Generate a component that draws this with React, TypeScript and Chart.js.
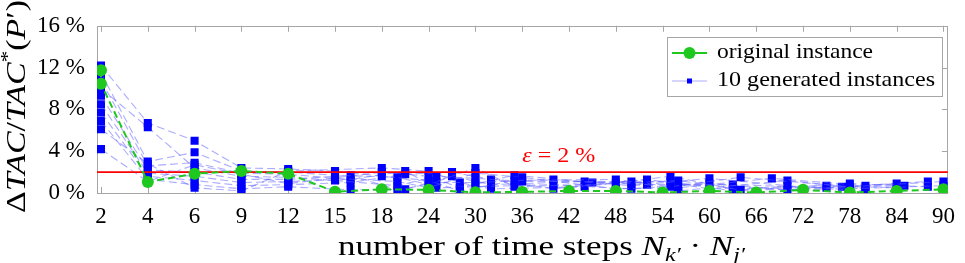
import React, { useEffect, useRef } from 'react';
import { Chart, registerables } from 'chart.js';

Chart.register(...registerables);

// ---- data ----
const tickSteps = [2, 4, 6, 9, 12, 15, 18, 24, 30, 36, 42, 48, 54, 60, 66, 72, 78, 84, 90];
const yTicks = [0, 4, 8, 12, 16];
const epsilon = 2;

const originalSteps = [2, 2, 4, 6, 9, 12, 15, 18, 24, 30, 36, 42, 48, 54, 60, 66, 72, 78, 84, 90];
const originalGap = [11.75, 10.45, 1.05, 1.85, 2.1, 1.85, 0.12, 0.35, 0.3, 0.06, 0.1, 0.2, 0.2, 0.05, 0.2, 0.05, 0.3, 0.05, 0.2, 0.35];

const gen0Steps = [2, 4, 6, 9, 12, 15, 18, 24, 28, 35, 48, 55, 64, 78, 90];
const gen0Gap = [12.2, 6.7, 5.0, 2.4, 2.3, 2.1, 1.6, 1.2, 0.2, 1.2, 1.3, 0.6, 1.5, 0.6, 1.1];
const gen1Steps = [2, 4, 6, 9, 12, 15, 20, 24, 30, 35, 48, 56, 64, 78, 90];
const gen1Gap = [11.5, 3.0, 3.9, 2.1, 2.0, 1.7, 1.5, 0.8, 2.4, 0.6, 0.9, 1.2, 0.3, 0.4, 0.7];
const gen2Steps = [2, 4, 6, 9, 12, 15, 20, 24, 30, 36, 48, 56, 68, 80];
const gen2Gap = [10.8, 2.6, 2.9, 1.9, 1.8, 1.4, 1.1, 0.5, 1.9, 1.5, 0.4, 0.5, 1.4, 0.7];
const gen3Steps = [2, 4, 6, 9, 12, 15, 20, 25, 30, 36, 50, 56, 70, 80];
const gen3Gap = [10.0, 6.3, 2.4, 1.6, 1.5, 1.2, 0.7, 1.6, 1.4, 1.1, 1.1, 0.2, 1.2, 0.4];
const gen4Steps = [2, 4, 6, 9, 12, 16, 20, 25, 30, 40, 50, 60, 70, 80];
const gen4Gap = [9.3, 2.2, 2.0, 1.3, 1.3, 1.7, 0.3, 1.0, 1.0, 1.3, 0.7, 1.4, 0.7, 0.2];
const gen5Steps = [2, 4, 6, 9, 12, 16, 21, 25, 30, 40, 50, 60, 70, 84];
const gen5Gap = [8.5, 1.9, 1.6, 1.0, 1.1, 1.3, 2.1, 0.5, 0.6, 0.8, 0.4, 0.9, 0.3, 0.9];
const gen6Steps = [2, 4, 6, 9, 12, 16, 21, 27, 32, 40, 52, 60, 75, 84];
const gen6Gap = [7.7, 1.6, 1.2, 0.7, 0.8, 1.0, 1.8, 2.0, 1.3, 0.4, 1.3, 0.4, 0.7, 0.5];
const gen7Steps = [2, 4, 6, 9, 12, 16, 21, 27, 32, 44, 52, 63, 75, 85];
const gen7Gap = [6.9, 1.3, 0.8, 0.4, 0.6, 0.3, 0.35, 1.6, 0.8, 1.1, 0.8, 0.8, 0.5, 0.7];
const gen8Steps = [2, 4, 6, 9, 12, 18, 24, 28, 32, 44, 55, 63, 77, 88];
const gen8Gap = [6.1, 2.8, 0.5, 0.2, 2.1, 2.4, 2.1, 1.0, 0.4, 0.6, 1.6, 0.4, 0.6, 1.1];
const gen9Steps = [2, 4, 6, 9, 12, 18, 24, 28, 35, 45, 55, 63, 78, 88];
const gen9Gap = [4.2, 1.1, 2.7, 1.8, 0.9, 2.0, 1.6, 0.5, 1.7, 1.0, 1.1, 0.2, 0.9, 0.6];

const generatedSteps = [gen0Steps, gen1Steps, gen2Steps, gen3Steps, gen4Steps, gen5Steps, gen6Steps, gen7Steps, gen8Steps, gen9Steps];
const generatedGap = [gen0Gap, gen1Gap, gen2Gap, gen3Gap, gen4Gap, gen5Gap, gen6Gap, gen7Gap, gen8Gap, gen9Gap];

// ---- styles ----
const GREEN = '#1ec81e';
const BLUE = '#0000ff';
const BLUE_LINE = 'rgba(90,90,255,0.5)';
const RED = '#ff0000';
const AXIS = '#a6a6a6';
const SERIF = '"Liberation Serif", "Times New Roman", serif';
const X_MIN = -0.085;
const X_MAX = 18.095;

// piecewise-linear position of a step count on the tick axis
function stepPos(n: number): number {
  for (let i = 0; i < tickSteps.length - 1; i++) {
    const a = tickSteps[i];
    const b = tickSteps[i + 1];
    if (n <= b) return i + (n - a) / (b - a);
  }
  return tickSteps.length - 1;
}

type Piece = { t: string; font: string; dy?: number };

function runWidth(ctx: CanvasRenderingContext2D, pieces: Piece[]) {
  let w = 0;
  for (const p of pieces) {
    ctx.font = p.font;
    w += ctx.measureText(p.t).width;
  }
  return w;
}

function drawRun(ctx: CanvasRenderingContext2D, pieces: Piece[], x: number, y: number, target?: number) {
  const w = runWidth(ctx, pieces);
  const s = target ? target / w : 1;
  ctx.save();
  ctx.translate(x, y);
  ctx.scale(s, 1);
  ctx.textAlign = 'left';
  ctx.textBaseline = 'alphabetic';
  let cx = 0;
  for (const p of pieces) {
    ctx.font = p.font;
    ctx.fillText(p.t, cx, p.dy || 0);
    cx += ctx.measureText(p.t).width;
  }
  ctx.restore();
}

const decorPlugin = {
  id: 'decor',
  beforeDatasetsDraw(chart: any) {
    const { ctx, chartArea: a, scales } = chart;
    ctx.save();
    ctx.strokeStyle = AXIS;
    ctx.lineWidth = 1;
    ctx.beginPath();
    ctx.rect(Math.round(a.left) + 0.5, Math.round(a.top) + 0.5, Math.round(a.right - a.left) - 1, Math.round(a.bottom - a.top));
    ctx.stroke();
    ctx.beginPath();
    const xs = scales.x;
    tickSteps.forEach((_, i) => {
      const px = Math.round(xs.getPixelForValue(i)) + 0.5;
      ctx.moveTo(px, a.bottom);
      ctx.lineTo(px, a.bottom - 6);
      ctx.moveTo(px, a.top);
      ctx.lineTo(px, a.top + 6);
    });
    const ys = scales.y;
    yTicks.forEach((v) => {
      const py = Math.round(ys.getPixelForValue(v)) + 0.5;
      ctx.moveTo(a.left, py);
      ctx.lineTo(a.left + 6, py);
      ctx.moveTo(a.right, py);
      ctx.lineTo(a.right - 6, py);
    });
    ctx.stroke();
    ctx.restore();
  },
  afterDraw(chart: any) {
    const { ctx, scales } = chart;
    ctx.save();
    ctx.fillStyle = '#000';

    // x-axis title
    const up = `28px ${SERIF}`;
    const it = `italic 28px ${SERIF}`;
    const sub = `italic 19px ${SERIF}`;
    drawRun(ctx, [
      { t: 'number of time steps ', font: up },
      { t: 'N', font: it },
      { t: 'k\u2032', font: sub, dy: 6 },
      { t: ' \u00b7 ', font: up },
      { t: 'N', font: it },
      { t: 'j\u2032', font: sub, dy: 6 },
    ], 338, 255, 407);

    // y-axis title (rotated)
    ctx.save();
    ctx.translate(25, 213);
    ctx.rotate(-Math.PI / 2);
    drawRun(ctx, [
      { t: '\u0394', font: up },
      { t: 'TAC', font: it },
      { t: '/', font: up },
      { t: 'TAC', font: it },
      { t: '*', font: `19px ${SERIF}`, dy: -11 },
      { t: '(', font: up },
      { t: 'P', font: it },
      { t: '\u2032', font: up },
      { t: ')', font: up },
    ], 0, 0, 213);
    ctx.restore();

    // epsilon label
    ctx.fillStyle = RED;
    const ex = scales.x.getPixelForValue(stepPos(36));
    const ey = scales.y.getPixelForValue(epsilon) - 10;
    drawRun(ctx, [
      { t: '\u03b5', font: `italic 22px ${SERIF}` },
      { t: ' = 2 %', font: `22px ${SERIF}` },
    ], ex, ey, 73);

    // legend
    const lx = 667.5, ly = 37.5, lw = 275, lh = 59;
    ctx.fillStyle = '#fff';
    ctx.fillRect(lx, ly, lw, lh);
    ctx.strokeStyle = AXIS;
    ctx.lineWidth = 1;
    ctx.strokeRect(lx, ly, lw, lh);

    ctx.strokeStyle = GREEN;
    ctx.lineWidth = 2;
    ctx.beginPath();
    ctx.moveTo(672, 53);
    ctx.lineTo(707, 53);
    ctx.stroke();
    ctx.fillStyle = GREEN;
    ctx.beginPath();
    ctx.arc(689.5, 53, 6, 0, Math.PI * 2);
    ctx.fill();

    ctx.strokeStyle = BLUE_LINE;
    ctx.lineWidth = 1;
    ctx.beginPath();
    ctx.moveTo(672, 81);
    ctx.lineTo(707, 81);
    ctx.stroke();
    ctx.fillStyle = BLUE;
    ctx.fillRect(687, 78.5, 5, 5);

    ctx.fillStyle = '#000';
    drawRun(ctx, [{ t: 'original instance', font: `22px ${SERIF}` }], 717, 58, 156);
    drawRun(ctx, [{ t: '10 generated instances', font: `22px ${SERIF}` }], 717, 86, 218);

    ctx.restore();
  },
};

export default function App() {
  const ref = useRef<HTMLCanvasElement | null>(null);

  useEffect(() => {
    document.body.style.margin = '0';
    const canvas = ref.current;
    if (!canvas) return;

    const generatedSets = generatedSteps.map((steps, k) => ({
      label: k === 0 ? '10 generated instances' : `generated ${k}`,
      data: steps.map((n, j) => ({ x: stepPos(n), y: generatedGap[k][j] })),
      borderColor: BLUE_LINE,
      borderWidth: 1.1,
      borderDash: [8, 4],
      pointStyle: 'rect' as const,
      pointRadius: 5.7,
      pointBackgroundColor: BLUE,
      pointBorderColor: BLUE,
      pointBorderWidth: 0,
      fill: false,
      tension: 0,
    }));

    const chart = new Chart(canvas, {
      type: 'line',
      data: {
        datasets: [
          {
            label: 'original instance',
            data: originalSteps.map((n, j) => ({ x: stepPos(n), y: originalGap[j] })),
            borderColor: GREEN,
            borderWidth: 2,
            borderDash: [7, 4],
            pointStyle: 'circle',
            pointRadius: 6,
            pointBackgroundColor: GREEN,
            pointBorderColor: GREEN,
            pointBorderWidth: 0,
            fill: false,
            tension: 0,
          },
          {
            label: 'epsilon',
            data: [{ x: X_MIN, y: epsilon }, { x: X_MAX, y: epsilon }],
            borderColor: RED,
            borderWidth: 1.6,
            pointRadius: 0,
            fill: false,
          },
          ...generatedSets,
        ] as any,
      },
      options: {
        animation: false,
        responsive: false,
        maintainAspectRatio: false,
        events: [],
        layout: { padding: { left: 0, right: 8, top: 21, bottom: 0 } },
        plugins: { legend: { display: false }, tooltip: { enabled: false } },
        scales: {
          x: {
            type: 'linear',
            min: X_MIN,
            max: X_MAX,
            grid: { display: false, drawTicks: false },
            border: { display: false },
            afterBuildTicks: (s: any) => {
              s.ticks = tickSteps.map((_, i) => ({ value: i }));
            },
            afterFit: (s: any) => {
              s.height = 70;
            },
            ticks: {
              autoSkip: false,
              maxRotation: 0,
              minRotation: 0,
              padding: 10,
              color: '#000',
              font: { family: SERIF, size: 23 },
              callback: (v: any) => String(tickSteps[Math.round(v)] ?? ''),
            },
          },
          y: {
            type: 'linear',
            min: 0,
            max: 16,
            grid: { display: false, drawTicks: false },
            border: { display: false },
            afterBuildTicks: (s: any) => {
              s.ticks = yTicks.map((v) => ({ value: v }));
            },
            afterFit: (s: any) => {
              s.width = 97;
            },
            ticks: {
              padding: 12,
              color: '#000',
              font: { family: SERIF, size: 23 },
              callback: (v: any) => `${v} %`,
            },
          },
        },
      },
      plugins: [decorPlugin],
    });

    return () => chart.destroy();
  }, []);

  return (
    <div style={{ width: 965, height: 263 }}>
      <canvas ref={ref} width={965} height={263} style={{ display: 'block' }} />
    </div>
  );
}
